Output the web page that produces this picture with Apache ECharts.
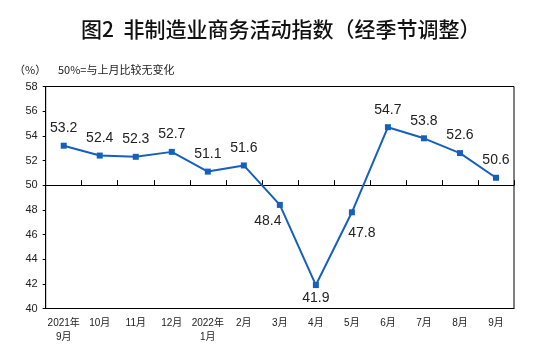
<!DOCTYPE html>
<html>
<head>
<meta charset="utf-8">
<script src="https://cdn.jsdelivr.net/npm/echarts@6/dist/echarts.min.js"></script>
<style>
html,body{margin:0;padding:0;background:#fff;}
#c{width:539px;height:356px;}
</style>
</head>
<body>
<div id="c"></div>
<script>
// ---- data ----
const categories = ['2021年\n9月','10月','11月','12月','2022年\n1月','2月','3月','4月','5月','6月','7月','8月','9月'];
const values = [53.2, 52.4, 52.3, 52.7, 51.1, 51.6, 48.4, 41.9, 47.8, 54.7, 53.8, 52.6, 50.6];
const yTicks = [40, 42, 44, 46, 48, 50, 52, 54, 56, 58];
const baseline = 50;
const titleText = '图2  非制造业商务活动指数（经季节调整）';
const unitText = '（%）';
const noteText = '50%=与上月比较无变化';

// ---- layout / style ----
const W = 539, H = 356;
const gridTop = 86.5, gridBottom = 47.5, gridLeft = 45.7, gridRight = 25;
const yMin = yTicks[0], yMax = yTicks[yTicks.length - 1], yStep = yTicks[1] - yTicks[0];
const gridH = H - gridTop - gridBottom;
const baseOffset = -gridH * (baseline - yMin) / (yMax - yMin);
const labelOffsets = {6: [-12, 16], 7: [0, 13], 8: [10, 21]};
const defaultOffset = [0, -17.5];
const lineColor = '#1560BD';
const latin = '"Liberation Sans", Arial, "Noto Sans CJK SC", sans-serif';

const seriesData = values.map((v, i) => ({
  value: v,
  label: { offset: labelOffsets[i] || defaultOffset }
}));

const chart = echarts.init(document.getElementById('c'), null, {renderer: 'canvas'});
chart.setOption({
  animation: false,
  backgroundColor: '#fff',
  title: {
    text: titleText,
    left: 81,
    top: 18.5,
    padding: 0,
    textStyle: {fontFamily: '"Noto Sans CJK SC", sans-serif', fontSize: 21, fontWeight: 500, color: '#111'}
  },
  graphic: [
    {type: 'text', left: 14, top: 64, style: {text: unitText, font: '11px "Noto Sans CJK SC", sans-serif', fill: '#222'}},
    {type: 'text', left: 58, top: 64, style: {text: noteText, font: '11px "Noto Sans CJK SC", sans-serif', fill: '#222'}}
  ],
  grid: {
    left: gridLeft, right: gridRight, top: gridTop, bottom: gridBottom,
    show: true, borderColor: '#000', borderWidth: 1, containLabel: false
  },
  xAxis: [
    {
      type: 'category', data: categories, boundaryGap: true,
      axisLine: {lineStyle: {color: '#000', width: 1}},
      axisTick: {show: false},
      axisLabel: {fontSize: 10, fontFamily: latin, color: '#222', margin: 8, lineHeight: 14, interval: 0}
    },
    {
      type: 'category', data: categories, boundaryGap: true, position: 'bottom', offset: baseOffset,
      axisLine: {show: true, lineStyle: {color: '#000', width: 1}},
      axisTick: {show: true, inside: true, length: 5, lineStyle: {color: '#000'}, interval: 0},
      axisLabel: {show: false}
    }
  ],
  yAxis: {
    type: 'value', min: yMin, max: yMax, interval: yStep,
    axisLine: {show: true, lineStyle: {color: '#000', width: 1}},
    axisTick: {show: true, length: 3, lineStyle: {color: '#000'}},
    splitLine: {show: false},
    axisLabel: {fontSize: 11, fontFamily: latin, color: '#222', margin: 8}
  },
  series: [{
    type: 'line',
    xAxisIndex: 0,
    data: seriesData,
    symbol: 'rect',
    symbolSize: 6,
    lineStyle: {color: lineColor, width: 2},
    itemStyle: {color: lineColor},
    label: {
      show: true, position: 'inside',
      fontSize: 14, fontFamily: latin, color: '#222'
    }
  }]
});
</script>
</body>
</html>
